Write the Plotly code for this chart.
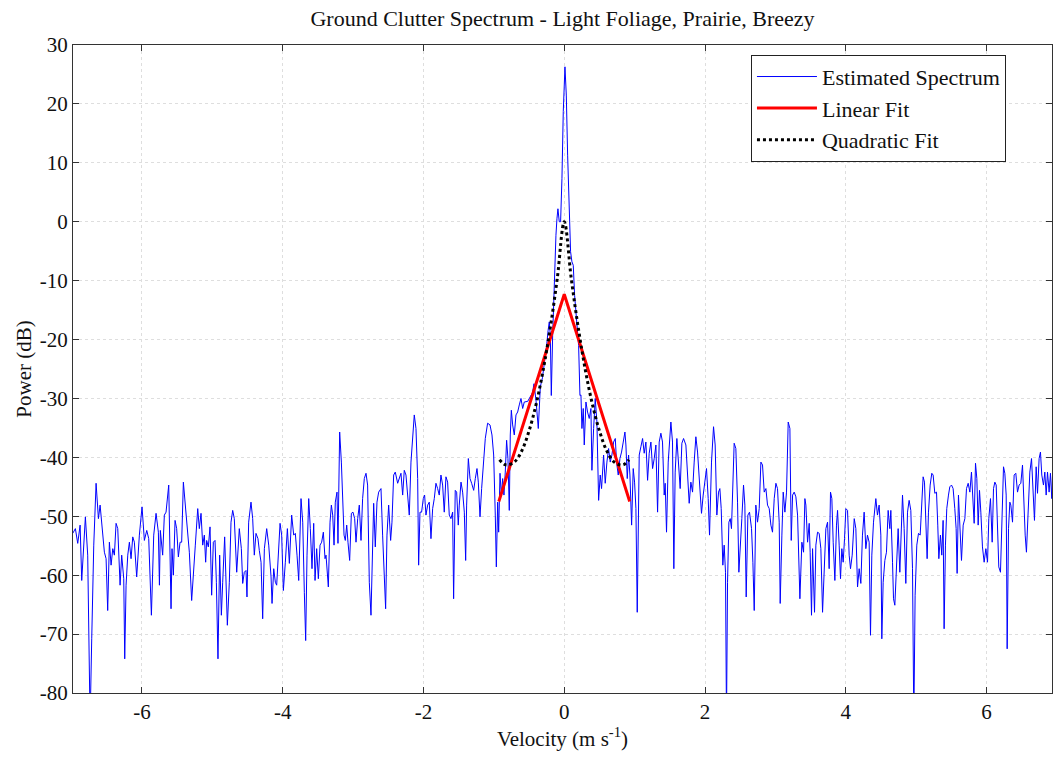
import plotly.graph_objects as go

# ---- Estimated spectrum (velocity m/s, power dB) ----
velocity = [
    -6.984, -6.946, -6.913, -6.879, -6.856, -6.804, -6.771, -6.747, -6.737, -6.714,
    -6.685, -6.652, -6.619, -6.595, -6.567, -6.534, -6.510, -6.487, -6.463, -6.439,
    -6.415, -6.392, -6.368, -6.344, -6.311, -6.288, -6.259, -6.245, -6.226, -6.202,
    -6.179, -6.155, -6.131, -6.108, -6.075, -6.037, -5.999, -5.966, -5.932, -5.904,
    -5.866, -5.833, -5.800, -5.767, -5.752,
    -5.739, -5.706, -5.682, -5.658, -5.620, -5.587, -5.573, -5.554, -5.530, -5.507,
    -5.483, -5.459, -5.436, -5.412, -5.384, -5.351, -5.327, -5.294, -5.265, -5.242,
    -5.208, -5.185, -5.161, -5.137, -5.114, -5.095, -5.081, -5.057, -5.033, -5.010,
    -4.986, -4.962, -4.943, -4.920, -4.896, -4.872, -4.853, -4.825, -4.787, -4.759,
    -4.735, -4.711, -4.688, -4.654, -4.617, -4.588, -4.569, -4.546, -4.522, -4.508,
    -4.484, -4.451, -4.427, -4.404, -4.380, -4.352, -4.333,
    -4.308, -4.285, -4.261, -4.228, -4.199, -4.166, -4.152, -4.128, -4.105, -4.086,
    -4.062, -4.038, -4.015, -3.991, -3.963, -3.934, -3.906, -3.873, -3.844, -3.821,
    -3.797, -3.773, -3.740, -3.716, -3.693, -3.674, -3.655, -3.631, -3.608, -3.584,
    -3.560, -3.541, -3.518, -3.494, -3.470, -3.447, -3.423, -3.399, -3.385, -3.371,
    -3.352, -3.328, -3.309, -3.290, -3.271, -3.253, -3.229, -3.215, -3.191, -3.167,
    -3.148, -3.129, -3.111, -3.091, -3.073, -3.049, -3.025, -3.002, -2.978, -2.959,
    -2.935, -2.912,
    -2.888, -2.865, -2.841, -2.817, -2.794, -2.770, -2.746, -2.723, -2.708, -2.685,
    -2.661, -2.637, -2.604, -2.581, -2.552, -2.538, -2.519, -2.495, -2.467, -2.448,
    -2.424, -2.401, -2.367, -2.344, -2.320, -2.296, -2.273, -2.249, -2.225, -2.202,
    -2.178, -2.154, -2.131, -2.107, -2.083, -2.069, -2.050, -2.027, -2.003, -1.984,
    -1.965, -1.941, -1.918, -1.894, -1.870, -1.847, -1.823, -1.799, -1.776, -1.752,
    -1.728, -1.705, -1.681, -1.657, -1.634, -1.610, -1.586, -1.572, -1.549, -1.529,
    -1.506, -1.492,
    -1.467, -1.444, -1.420, -1.401, -1.387, -1.363, -1.339, -1.316, -1.287, -1.264,
    -1.240, -1.221, -1.197, -1.174, -1.150, -1.122, -1.089, -1.055, -1.027, -1.003,
    -0.980, -0.965, -0.946, -0.932, -0.913, -0.894, -0.875, -0.857, -0.838, -0.819,
    -0.800, -0.781, -0.767, -0.752, -0.733, -0.710, -0.686, -0.662, -0.639, -0.615,
    -0.591, -0.568, -0.520, -0.497, -0.473,
    -0.450, -0.430, -0.400, -0.369, -0.340, -0.310, -0.280, -0.250, -0.230, -0.213,
    -0.198, -0.184, -0.165, -0.151, -0.137, -0.118, -0.104, -0.090, -0.071, -0.052,
    -0.033, -0.014, 0.010, 0.029, 0.048, 0.071, 0.090, 0.109, 0.128, 0.147,
    0.166, 0.190, 0.204, 0.223,
    0.237, 0.251, 0.270, 0.284, 0.308, 0.331, 0.355, 0.379, 0.393, 0.417,
    0.440, 0.464, 0.488, 0.511, 0.530, 0.559, 0.582, 0.606, 0.630, 0.653,
    0.677, 0.701, 0.725, 0.743, 0.767, 0.791, 0.814, 0.838, 0.862, 0.876,
    0.895, 0.914, 0.933, 0.957, 0.980, 0.999, 1.018, 1.037, 1.051, 1.065,
    1.089, 1.113, 1.136, 1.160, 1.184, 1.207, 1.231, 1.255, 1.278, 1.302,
    1.326, 1.349,
    1.373, 1.396, 1.420, 1.434, 1.453, 1.477, 1.515, 1.538, 1.557, 1.576,
    1.600, 1.624, 1.647, 1.671, 1.695, 1.728, 1.751, 1.775, 1.799, 1.823,
    1.846, 1.870, 1.894, 1.917, 1.950, 1.974, 1.998, 2.021, 2.045, 2.064,
    2.092, 2.121, 2.144, 2.168, 2.192, 2.211, 2.230, 2.253, 2.272, 2.291,
    2.305, 2.320, 2.339, 2.358, 2.376, 2.391, 2.414, 2.438, 2.462, 2.481,
    2.504, 2.523, 2.547, 2.566, 2.585, 2.609, 2.632, 2.661, 2.680, 2.699,
    2.722, 2.746, 2.770,
    2.794, 2.817, 2.841, 2.865, 2.888, 2.912, 2.936, 2.959, 2.983, 3.007,
    3.030, 3.054, 3.068, 3.092, 3.111, 3.135, 3.158, 3.182, 3.206, 3.225,
    3.244, 3.267, 3.291, 3.315, 3.329, 3.348, 3.376, 3.400, 3.419, 3.433,
    3.457, 3.480, 3.494, 3.513, 3.528, 3.556, 3.575, 3.599, 3.622, 3.646,
    3.670, 3.693, 3.717, 3.741, 3.764, 3.783, 3.802, 3.821, 3.845, 3.868,
    3.883, 3.906, 3.925, 3.944, 3.963, 3.982, 4.001, 4.025, 4.048, 4.067,
    4.091, 4.120, 4.143, 4.167, 4.190,
    4.214, 4.237, 4.261, 4.285, 4.308, 4.332, 4.351, 4.370, 4.394, 4.427,
    4.450, 4.474, 4.498, 4.512, 4.531, 4.555, 4.578, 4.602, 4.626, 4.640,
    4.664, 4.678, 4.697, 4.720, 4.744, 4.768, 4.782, 4.806, 4.829, 4.853,
    4.877, 4.900, 4.924, 4.948, 4.967, 4.985, 5.009, 5.033, 5.057, 5.080,
    5.099, 5.118, 5.137, 5.156, 5.175, 5.199, 5.222, 5.241, 5.265, 5.289,
    5.307, 5.322, 5.345, 5.364, 5.383, 5.397, 5.416, 5.435, 5.459, 5.478,
    5.502, 5.525, 5.549, 5.568, 5.582, 5.601,
    5.644, 5.668, 5.692, 5.715, 5.739, 5.763, 5.786, 5.805, 5.824, 5.843,
    5.862, 5.881, 5.900, 5.919, 5.942, 5.966, 5.990, 6.014, 6.032, 6.056,
    6.080, 6.099, 6.118, 6.137, 6.156, 6.174, 6.198, 6.217, 6.241, 6.260,
    6.279, 6.293, 6.312, 6.331, 6.345, 6.369, 6.392, 6.416, 6.440, 6.463,
    6.487, 6.511, 6.530, 6.549, 6.567, 6.591, 6.615, 6.639, 6.657, 6.681,
    6.705, 6.724, 6.747, 6.766, 6.785, 6.809, 6.828, 6.847, 6.866, 6.889,
    6.908, 6.927, 6.942,
]

power_db = [
    -52.9, -52.1, -54.6, -51.5, -60.9, -50.1, -56.6, -70.8, -85.0, -70.8,
    -54.9, -44.4, -50.4, -48.1, -52.1, -56.1, -57.2, -66.0, -54.4, -58.3,
    -55.5, -56.6, -51.2, -52.1, -61.7, -56.6, -60.6, -74.2, -61.7, -56.6,
    -54.4, -57.2, -53.5, -54.4, -60.3, -53.2, -48.4, -54.1, -52.4, -53.8,
    -66.8, -53.2, -49.5, -52.7, -61.7,
    -52.4, -56.6, -49.8, -49.3, -44.7, -65.7, -55.5, -60.0, -50.7, -52.1,
    -56.9, -54.4, -54.4, -44.2, -48.1, -51.5, -56.1, -64.3, -58.3, -54.9,
    -48.7, -52.1, -49.5, -54.9, -53.2, -57.8, -54.1, -55.2, -51.8, -63.4,
    -54.4, -54.1, -61.2, -74.2, -56.6, -66.8, -61.2, -53.5, -68.5, -61.2,
    -51.0, -49.0, -50.4, -59.5, -52.1, -55.5, -61.4, -59.5, -59.2, -63.7,
    -51.0, -47.6, -50.4, -56.6, -52.9, -53.8, -55.8,
    -57.8, -67.4, -55.5, -52.1, -54.9, -60.3, -64.8, -58.9, -61.2, -61.7,
    -56.6, -51.2, -53.2, -62.6, -57.8, -52.1, -58.0, -49.8, -53.2, -52.9,
    -56.6, -60.9, -47.0, -51.0, -62.9, -71.1, -56.6, -47.0, -52.1, -58.9,
    -51.2, -60.9, -55.5, -60.6, -54.9, -54.4, -52.7, -57.2, -56.6, -58.9,
    -62.0, -51.0, -48.1, -49.8, -54.9, -47.6, -45.9, -54.6, -35.7, -40.8,
    -48.7, -53.2, -54.1, -51.5, -54.4, -57.5, -49.5, -49.3, -50.4, -54.4,
    -50.4, -48.1,
    -54.1, -47.0, -43.6, -42.7, -44.7, -61.2, -66.8, -51.0, -47.8, -55.2,
    -47.6, -45.9, -45.3, -53.2, -63.4, -65.7, -53.2, -48.1, -54.1, -51.0,
    -43.0, -42.5, -44.4, -43.6, -42.7, -46.4, -42.2, -43.0, -46.4, -49.8,
    -40.8, -35.7, -32.8, -35.1, -43.6, -58.3, -49.3, -49.3, -47.0, -46.4,
    -49.8, -48.1, -47.6, -53.8, -48.7, -47.0, -44.4, -45.3, -46.4, -43.0,
    -44.7, -49.3, -43.3, -44.2, -49.8, -50.4, -49.3, -64.0, -45.6, -45.9,
    -51.5, -48.1,
    -44.2, -45.9, -49.3, -57.5, -48.1, -40.2, -43.6, -44.4, -45.6, -43.6,
    -41.9, -44.2, -50.1, -45.3, -40.8, -36.8, -34.2, -34.5, -36.2, -39.6,
    -49.8, -58.6, -47.6, -52.7, -42.7, -46.4, -43.6, -46.4, -42.5, -37.1,
    -40.2, -49.0, -36.2, -32.0, -34.5, -36.2, -32.8, -32.3, -31.1, -30.0,
    -31.7, -30.6, -30.5, -30.0, -29.4,
    -29.0, -27.5, -30.5, -35.1, -28.0, -26.5, -24.0, -21.0, -18.5, -17.0,
    -19.3, -29.5, -19.3, -13.1, -6.3, -2.3, 0.5, 2.2, 0.0, 0.0,
    7.3, 18.7, 26.3, 21.5, 11.3, 1.7, -5.1, -6.8, -7.4, -12.5,
    -15.3, -19.9, -21.0, -29.5,
    -29.4, -35.1, -31.7, -37.9, -30.6, -32.3, -33.4, -31.7, -42.2, -35.1,
    -30.0, -34.0, -47.3, -43.0, -45.3, -39.6, -44.4, -40.8, -38.5, -40.8,
    -39.6, -37.4, -36.8, -40.8, -43.0, -40.2, -39.1, -37.4, -35.7, -37.9,
    -43.6, -39.6, -43.0, -51.5, -41.9, -44.2, -48.7, -66.3, -48.1, -39.6,
    -38.2, -36.8, -39.3, -37.4, -43.9, -39.3, -37.4, -41.9, -40.2, -37.9,
    -49.3, -37.4,
    -35.9, -37.4, -46.4, -44.4, -52.7, -40.8, -34.0, -37.4, -58.9, -42.5,
    -36.8, -41.9, -45.3, -37.6, -36.8, -37.9, -41.9, -47.8, -44.2, -45.9,
    -40.8, -36.5, -39.1, -43.6, -49.5, -46.4, -44.2, -41.9, -47.0, -53.2,
    -40.8, -34.8, -37.9, -49.8, -45.9, -45.3, -48.7, -58.3, -54.9, -59.5,
    -85.0, -61.2, -51.0, -50.4, -52.1, -47.0, -37.6, -38.5, -47.6, -59.5,
    -53.2, -50.4, -44.7, -48.1, -63.7, -49.8, -49.3, -52.1, -57.8, -66.0,
    -48.1, -51.0, -48.7,
    -40.8, -41.3, -45.9, -45.3, -48.1, -48.7, -51.5, -52.7, -47.0, -44.4,
    -45.3, -51.0, -64.8, -53.2, -45.9, -49.3, -45.9, -34.0, -35.1, -54.1,
    -46.4, -45.9, -46.7, -49.8, -57.8, -64.0, -54.4, -56.1, -47.0, -48.1,
    -54.4, -51.2, -56.1, -66.8, -55.5, -66.3, -54.9, -52.7, -52.9, -55.5,
    -66.3, -58.9, -52.1, -51.0, -58.9, -45.9, -47.0, -54.4, -60.9, -51.5,
    -49.0, -54.9, -60.6, -55.5, -57.8, -53.8, -48.7, -49.0, -56.6, -58.9,
    -56.6, -50.4, -52.1, -62.0, -58.9,
    -61.4, -53.2, -49.3, -55.5, -53.2, -54.4, -70.2, -56.6, -51.0, -47.0,
    -49.8, -48.1, -53.2, -70.8, -61.2, -57.5, -56.1, -49.0, -52.1, -49.0,
    -57.8, -64.0, -65.1, -57.2, -52.1, -59.5, -53.8, -46.4, -52.1, -61.4,
    -49.3, -47.3, -49.0, -58.9, -85.0, -63.4, -54.9, -52.9, -53.2, -48.7,
    -43.3, -44.2, -49.3, -57.2, -49.3, -44.7, -42.7, -43.0, -46.1, -45.9,
    -51.5, -57.2, -53.2, -56.6, -50.7, -69.1, -54.9, -48.7, -46.4, -45.0,
    -44.7, -45.3, -48.7, -52.1, -59.7, -46.4,
    -57.5, -51.5, -50.4, -45.3, -44.4, -45.9, -42.5, -46.4, -51.2, -41.0,
    -43.6, -51.5, -45.6, -49.3, -55.2, -57.8, -55.5, -57.8, -50.4, -47.0,
    -54.4, -45.3, -44.2, -44.7, -50.7, -58.6, -59.5, -49.3, -41.6, -42.7,
    -46.4, -72.5, -52.1, -47.6, -48.1, -51.0, -43.0, -42.7, -45.9, -44.7,
    -44.4, -41.3, -47.6, -53.2, -56.1, -49.3, -42.5, -40.2, -45.3, -50.7,
    -41.6, -46.1, -40.2, -39.1, -43.0, -44.7, -42.5, -46.4, -42.5, -45.9,
    -42.7, -47.0, -41.3,
]

# ---- Linear fit (red) ----
lin_velocity = [-0.93, 0.0, 0.93]
lin_power_db = [-47.5, -12.3, -47.5]

# ---- Quadratic fit (black dotted) ----
quad_velocity = [-0.92, -0.85, -0.80, -0.70, -0.60, -0.50, -0.40, -0.30, -0.20, -0.10, 0.0,
                 0.10, 0.20, 0.30, 0.40, 0.50, 0.60, 0.70, 0.80, 0.85, 0.92]
quad_power_db = [-40.4, -41.2, -41.3, -40.7, -38.8, -35.5, -31.0, -25.2, -18.1, -9.7, 0.0,
                 -9.7, -18.1, -25.2, -31.0, -35.5, -38.8, -40.7, -41.3, -41.2, -40.4]

x_ticks = [-6, -4, -2, 0, 2, 4, 6]
x_tick_labels = ["-6", "-4", "-2", "0", "2", "4", "6"]
y_ticks = [30, 20, 10, 0, -10, -20, -30, -40, -50, -60, -70, -80]
y_tick_labels = ["30", "20", "10", "0", "-10", "-20", "-30", "-40", "-50", "-60", "-70", "-80"]

FONT = "Liberation Serif"

fig = go.Figure()
fig.add_trace(go.Scatter(x=velocity, y=power_db, mode="lines", name="Estimated Spectrum",
                         line=dict(color="#0000ff", width=1)))
fig.add_trace(go.Scatter(x=lin_velocity, y=lin_power_db, mode="lines", name="Linear Fit",
                         line=dict(color="#ff0000", width=3)))
fig.add_trace(go.Scatter(x=quad_velocity, y=quad_power_db, mode="lines", name="Quadratic Fit",
                         line=dict(color="#000000", width=3, dash="dot", shape="spline")))

axis_common = dict(
    showline=True, linecolor="#333333", linewidth=1, mirror="ticks",
    ticks="inside", ticklen=6, tickcolor="#333333",
    showgrid=True, gridcolor="#dedede", griddash="dot", gridwidth=1,
    zeroline=False, tickfont=dict(family=FONT, size=21, color="#111111"),
)

fig.update_layout(
    width=1054, height=757,
    margin=dict(l=73, r=2, t=45, b=64),
    paper_bgcolor="white", plot_bgcolor="white",
    font=dict(family=FONT, color="#111111"),
    title=dict(text="Ground Clutter Spectrum - Light Foliage, Prairie, Breezy",
               xref="paper", x=0.5, xanchor="center", y=0.976, yanchor="middle",
               font=dict(family=FONT, size=22, color="#111111")),
    xaxis=dict(range=[-6.98, 6.93], tickvals=x_ticks, ticktext=x_tick_labels,
               title=dict(text="Velocity (m s<sup>-1</sup>)", standoff=4,
                          font=dict(family=FONT, size=21)),
               **axis_common),
    yaxis=dict(range=[-80, 30], tickvals=y_ticks, ticktext=y_tick_labels,
               title=dict(text="Power (dB)", standoff=2,
                          font=dict(family=FONT, size=21)),
               **axis_common),
    legend=dict(x=0.6925, y=0.985, xanchor="left", yanchor="top",
                bgcolor="white", bordercolor="#222222", borderwidth=1,
                font=dict(family=FONT, size=22, color="#111111"),
                tracegroupgap=0, itemwidth=60),
    showlegend=True,
)

fig.write_html("out.html")
